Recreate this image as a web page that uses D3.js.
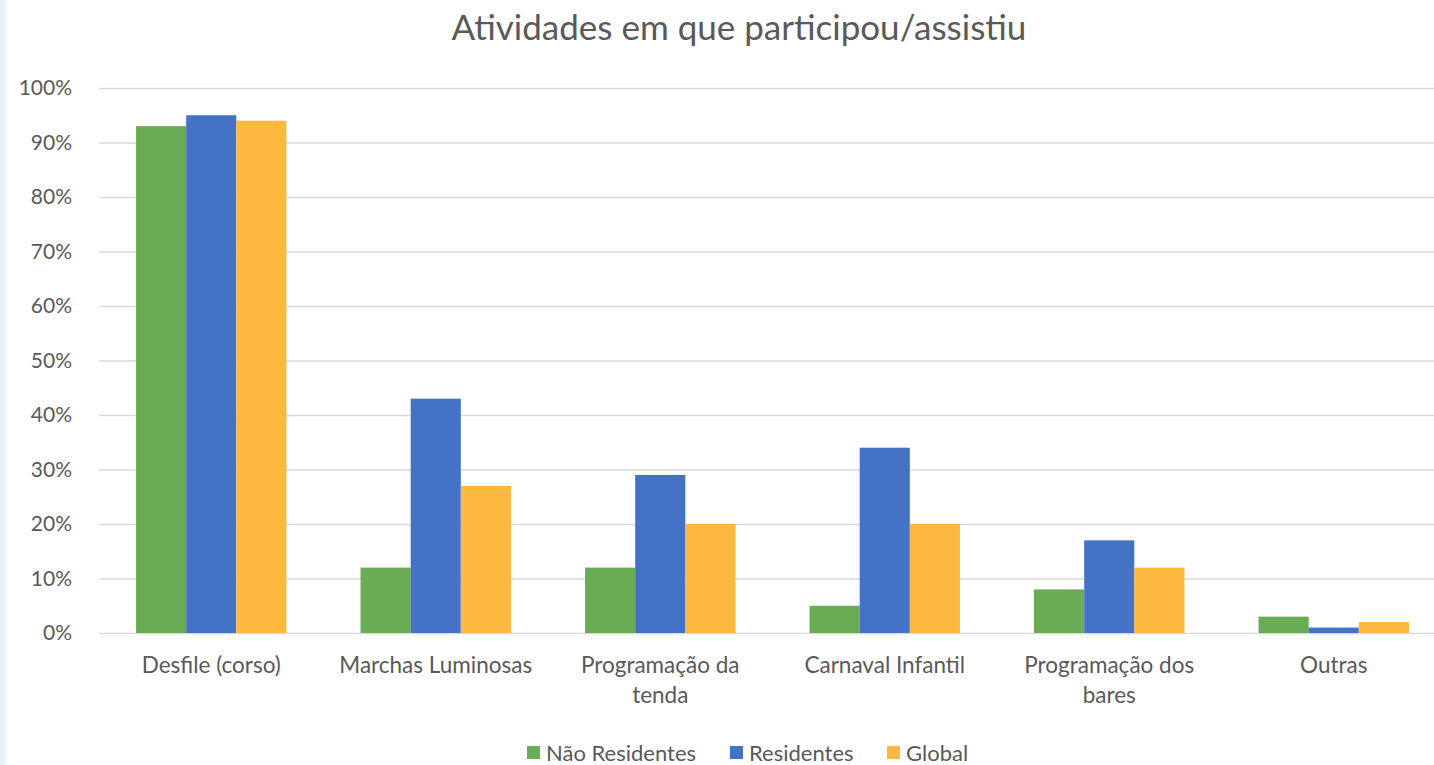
<!DOCTYPE html>
<html>
<head>
<meta charset="utf-8">
<script src="https://cdn.jsdelivr.net/npm/d3@7"></script>
<style>
  html, body { margin: 0; padding: 0; background: #fff; }
  svg { display: block; }
</style>
</head>
<body>
<div id="chart"></div>
<script>
const categories = [
    ['Desfile (corso)'],
    ['Marchas Luminosas'],
    ['Programação da', 'tenda'],
    ['Carnaval Infantil'],
    ['Programação dos', 'bares'],
    ['Outras']
];
const seriesNames = ['Não Residentes', 'Residentes', 'Global'];
const naoResidentes = [93, 12, 12, 5, 8, 3];
const residentes = [95, 43, 29, 34, 17, 1];
const globalVals = [94, 27, 20, 20, 12, 2];
const yTicks = [0, 10, 20, 30, 40, 50, 60, 70, 80, 90, 100];
const colors = ['#6aab55', '#4472c4', '#fdb93f'];

const width = 1434, height = 765;
const margin = { top: 88, right: -12, bottom: 132, left: 99 };
const font = 'Lato, "Open Sans", sans-serif';
const textColor = '#595959';

const svg = d3.select('#chart').append('svg')
    .attr('width', width)
    .attr('height', height);

// pale strip on the left edge
const grad = svg.append('defs').append('linearGradient')
    .attr('id', 'edge').attr('x1', 0).attr('x2', 1);
grad.append('stop').attr('offset', 0).attr('stop-color', '#e6f0f4');
grad.append('stop').attr('offset', 1).attr('stop-color', '#f3f8fa');
svg.append('rect').attr('x', 0).attr('y', 0).attr('width', 7).attr('height', height)
    .attr('fill', 'url(#edge)');

const series = seriesNames.map((name, s) => ({
    name,
    values: [naoResidentes, residentes, globalVals][s]
}));

const x0 = d3.scaleBand()
    .domain(d3.range(categories.length))
    .range([margin.left, width - margin.right])
    .paddingInner(0.33)
    .paddingOuter(0.165);

const x1 = d3.scaleBand()
    .domain(d3.range(series.length))
    .range([0, x0.bandwidth()]);

const y = d3.scaleLinear()
    .domain([0, 100])
    .range([height - margin.bottom, margin.top]);

// title
svg.append('text')
    .attr('x', 739)
    .attr('y', 40)
    .attr('text-anchor', 'middle')
    .attr('fill', textColor)
    .attr('font-family', font)
    .attr('font-size', '35px')
    .text('Atividades em que participou/assistiu');

// gridlines + y labels
const yAxis = d3.axisLeft(y)
    .tickValues(yTicks)
    .tickSize(-(width - margin.left))
    .tickFormat(d => d + '%');

const gy = svg.append('g')
    .attr('transform', `translate(${margin.left},0)`)
    .call(yAxis);
gy.select('.domain').remove();
gy.selectAll('.tick line')
    .attr('stroke', '#d9d9d9')
    .attr('stroke-width', 1.6);
gy.selectAll('.tick text')
    .attr('x', -27)
    .attr('fill', textColor)
    .attr('font-family', font)
    .attr('font-size', '21px');

// bars
const groups = svg.append('g')
    .selectAll('g')
    .data(series)
    .join('g')
    .attr('fill', (d, i) => colors[i]);

groups.selectAll('rect')
    .data((d, s) => d.values.map((v, i) => ({ v, i, s })))
    .join('rect')
    .attr('x', d => x0(d.i) + x1(d.s))
    .attr('y', d => y(d.v))
    .attr('width', x1.bandwidth())
    .attr('height', d => y(0) - y(d.v));

// category labels
const catLabels = svg.append('g')
    .selectAll('text')
    .data(categories)
    .join('text')
    .attr('x', (d, i) => x0(i) + x0.bandwidth() / 2)
    .attr('y', 673)
    .attr('text-anchor', 'middle')
    .attr('fill', textColor)
    .attr('font-family', font)
    .attr('font-size', '22.5px');

catLabels.selectAll('tspan')
    .data(d => d)
    .join('tspan')
    .attr('x', function () { return d3.select(this.parentNode).attr('x'); })
    .attr('dy', (d, i) => i === 0 ? 0 : 30)
    .text(d => d);

// legend
const legendX = [527, 730, 887];
const legend = svg.append('g')
    .selectAll('g')
    .data(series)
    .join('g')
    .attr('transform', (d, i) => `translate(${legendX[i]},753)`);

legend.append('rect')
    .attr('x', 0)
    .attr('y', -7)
    .attr('width', 13)
    .attr('height', 13)
    .attr('fill', (d, i) => colors[i]);

legend.append('text')
    .attr('x', 19)
    .attr('y', 0)
    .attr('dy', '0.35em')
    .attr('fill', textColor)
    .attr('font-family', font)
    .attr('font-size', '22px')
    .text(d => d.name);
</script>
</body>
</html>
